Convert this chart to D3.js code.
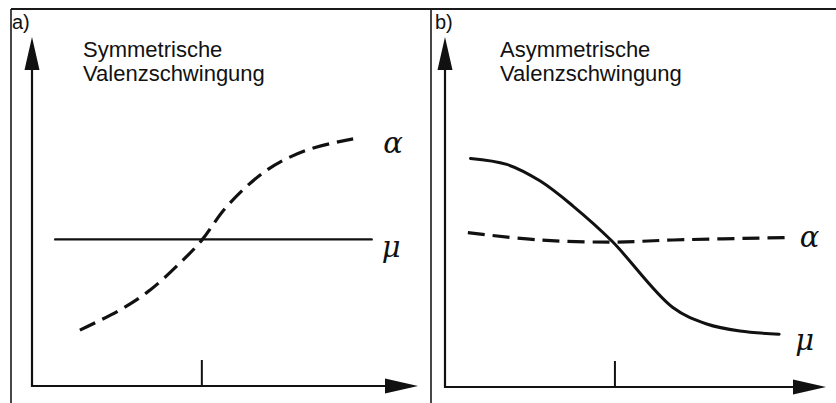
<!DOCTYPE html>
<html>
<head>
<meta charset="utf-8">
<script src="https://cdn.jsdelivr.net/npm/d3@7"></script>
<style>
  html, body { margin: 0; padding: 0; background: #fff; }
  svg { display: block; }
  .caption { font-family: "Liberation Sans", Arial, sans-serif; fill: #111; }
  .greek { font-family: "DejaVu Serif", serif; font-style: italic; fill: #111; }
</style>
</head>
<body>
<svg id="chart" width="836" height="403"></svg>
<script>
// Panel a) symmetric stretch: dipole moment flat, polarizability rising
const panelATitle = ["Symmetrische", "Valenzschwingung"];
const muA = [[0.6, 4.2], [8.8, 4.2]];
const alphaA = [[1.24, 1.60], [2.28, 2.18], [3.06, 2.75], [3.83, 3.52], [4.40, 4.18],
                [5.05, 5.15], [6.09, 6.19], [7.12, 6.76], [8.32, 7.08]];
const tickA = 4.4;

// Panel b) asymmetric stretch: dipole moment falling, polarizability nearly flat
const panelBTitle = ["Asymmetrische", "Valenzschwingung"];
const muB = [[0.67, 6.53], [1.62, 6.36], [2.49, 5.89], [3.36, 5.17], [4.38, 4.17],
             [5.98, 2.27], [6.87, 1.80], [7.74, 1.60], [8.77, 1.51]];
const alphaB = [[0.60, 4.41], [2.49, 4.20], [4.38, 4.14], [5.98, 4.20], [8.92, 4.27]];
const tickB = 4.46;

const svg = d3.select("#chart");

// Frame lines
const frame = svg.append("g").attr("stroke", "#1a1a1a").attr("fill", "none");
frame.append("line").attr("x1", 11).attr("x2", 836).attr("y1", 9).attr("y2", 9).attr("stroke-width", 2);
frame.append("line").attr("x1", 11).attr("x2", 11).attr("y1", 9).attr("y2", 403).attr("stroke-width", 1.6);
frame.append("line").attr("x1", 431).attr("x2", 431).attr("y1", 9).attr("y2", 403).attr("stroke-width", 1.6);

function panel(cfg) {
  const x = d3.scaleLinear().domain([0, 10]).range(cfg.xRange);
  const y = d3.scaleLinear().domain([0, 10]).range(cfg.yRange);
  const g = svg.append("g");
  const x0 = x(0), y0 = y(0), xEnd = x(10), yEnd = y(10);
  const head = 33, half = 7.5;

  // axes with arrow heads
  g.append("line").attr("x1", x0).attr("x2", x0).attr("y1", y0 + 1).attr("y2", yEnd + head - 2)
    .attr("stroke", "#111").attr("stroke-width", 2.2);
  g.append("line").attr("x1", x0 - 1).attr("x2", xEnd - head + 2).attr("y1", y0).attr("y2", y0)
    .attr("stroke", "#111").attr("stroke-width", 2.2);
  g.append("path")
    .attr("d", `M${x0},${yEnd} L${x0 - half},${yEnd + head} L${x0 + half},${yEnd + head} Z`)
    .attr("fill", "#111");
  g.append("path")
    .attr("d", `M${xEnd},${y0} L${xEnd - head},${y0 - half} L${xEnd - head},${y0 + half} Z`)
    .attr("fill", "#111");

  // tick marking the equilibrium position
  g.append("line").attr("x1", x(cfg.tick)).attr("x2", x(cfg.tick))
    .attr("y1", y0).attr("y2", y0 - 26).attr("stroke", "#111").attr("stroke-width", 2);

  const line = d3.line().x(d => x(d[0])).y(d => y(d[1])).curve(d3.curveCatmullRom.alpha(0.5));

  g.append("path").datum(cfg.mu).attr("d", line)
    .attr("fill", "none").attr("stroke", "#111").attr("stroke-width", cfg.muWidth)
    .attr("stroke-linecap", "round");
  g.append("path").datum(cfg.alpha).attr("d", line)
    .attr("fill", "none").attr("stroke", "#111").attr("stroke-width", 3.2)
    .attr("stroke-dasharray", "17,8");

  // panel letter
  g.append("text").attr("class", "caption").attr("x", cfg.letterX).attr("y", 29)
    .attr("font-size", 20).text(cfg.letter);

  // title
  const t = g.append("text").attr("class", "caption").attr("font-size", 22);
  cfg.title.forEach((s, i) => {
    t.append("tspan").attr("x", cfg.titleX).attr("y", 57 + i * 24).text(s);
  });

  // curve labels
  const la = cfg.alpha[cfg.alpha.length - 1], lm = cfg.mu[cfg.mu.length - 1];
  g.append("text").attr("class", "greek").attr("font-size", 29)
    .attr("x", x(la[0]) + cfg.alphaDx).attr("y", y(la[1]) + cfg.alphaDy).text("α");
  g.append("text").attr("class", "greek").attr("font-size", 29)
    .attr("x", x(lm[0]) + cfg.muDx).attr("y", y(lm[1]) + cfg.muDy).text("μ");
}

panel({
  xRange: [32, 418], yRange: [386, 37], tick: tickA,
  mu: muA, alpha: alphaA, muWidth: 2.4,
  letter: "a)", letterX: 12, title: panelATitle, titleX: 83,
  alphaDx: 30, alphaDy: 14, muDx: 10, muDy: 18
});

panel({
  xRange: [445, 826], yRange: [387, 37], tick: tickB,
  mu: muB, alpha: alphaB, muWidth: 3,
  letter: "b)", letterX: 435, title: panelBTitle, titleX: 500,
  alphaDx: 15, alphaDy: 9, muDx: 16, muDy: 16
});
</script>
</body>
</html>
